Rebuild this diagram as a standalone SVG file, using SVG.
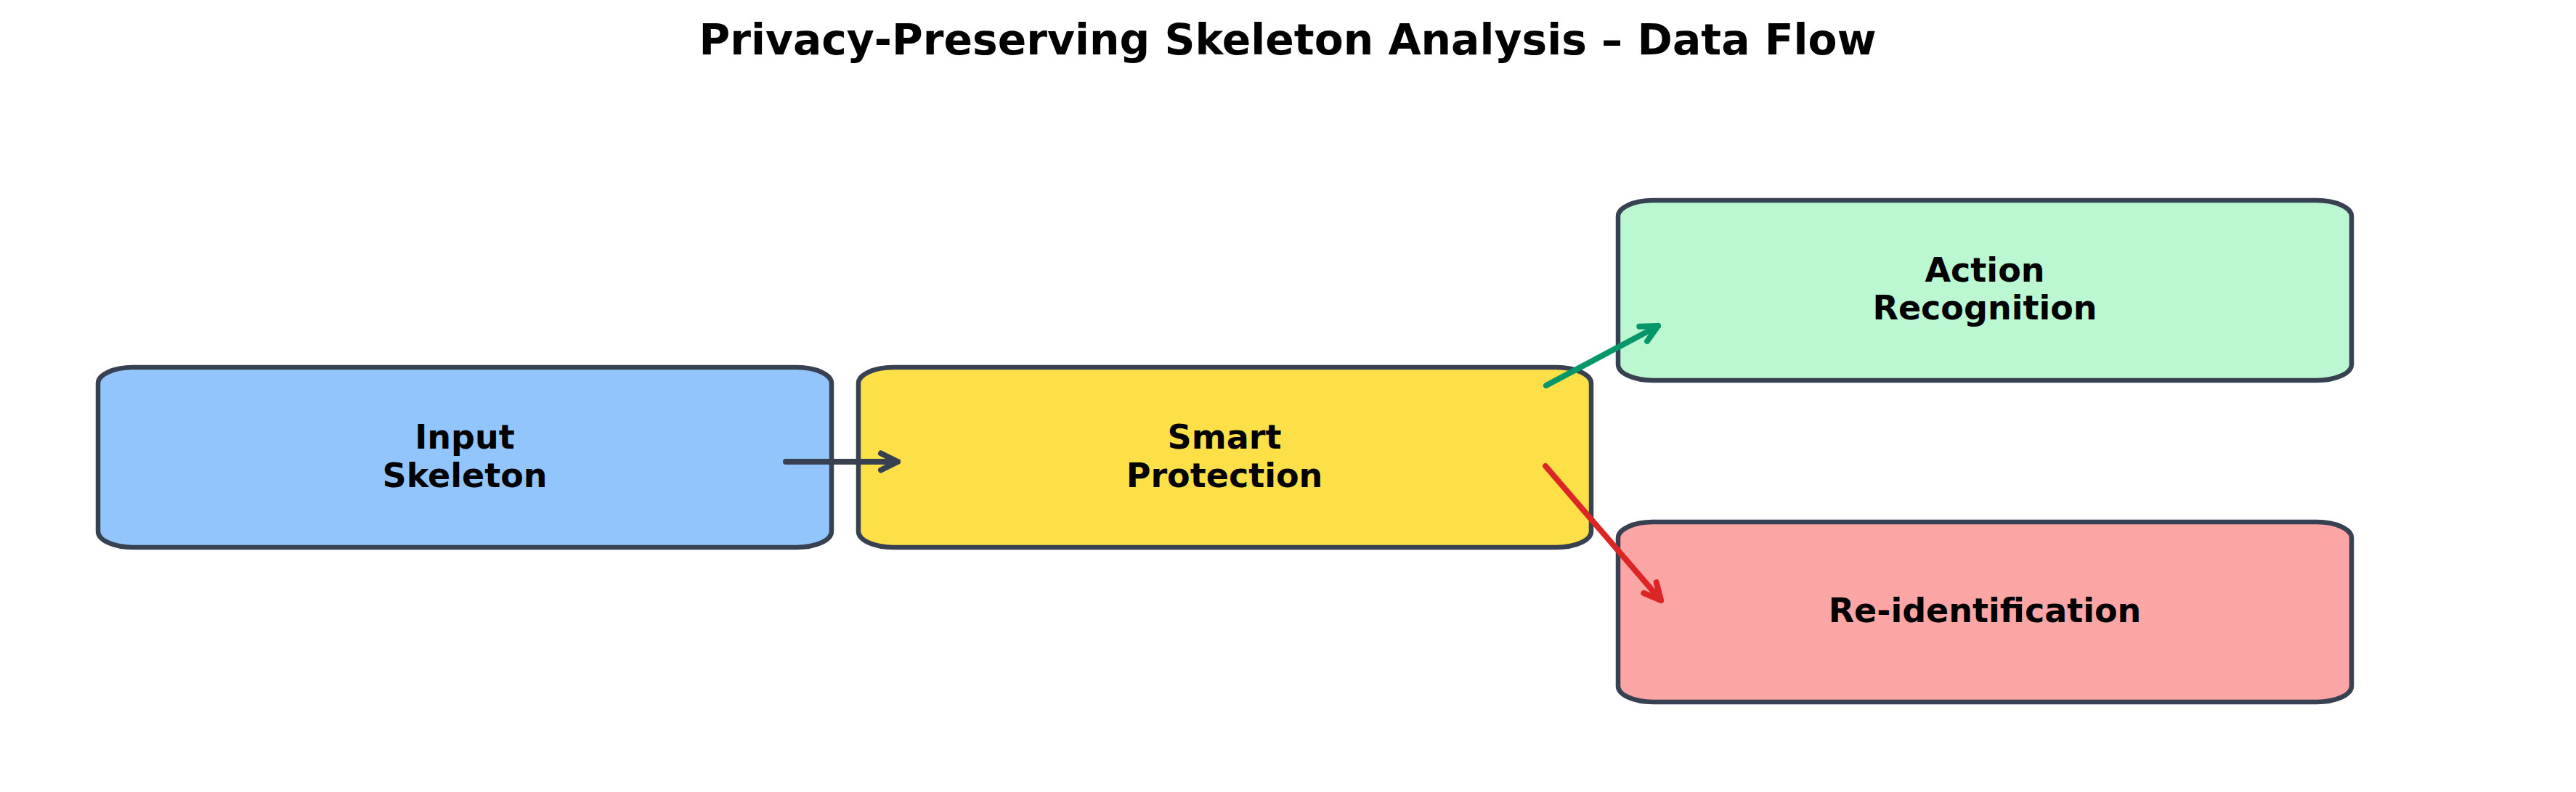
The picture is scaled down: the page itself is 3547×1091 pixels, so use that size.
<svg xmlns="http://www.w3.org/2000/svg" width="3547" height="1091" viewBox="0 0 3547 1091">
<style>
.box{stroke:#374151;stroke-width:6.5}
.lbl{font-family:"DejaVu Sans","Liberation Sans",sans-serif;font-weight:bold;font-size:46px;fill:#000;text-anchor:middle}
.title{font-family:"DejaVu Sans","Liberation Sans",sans-serif;font-weight:bold;font-size:58.3px;fill:#000;text-anchor:middle}
.conn{fill:none;stroke-width:8;stroke-linecap:round}
</style>
<defs>
<marker id="hGray" markerUnits="userSpaceOnUse" orient="auto" markerWidth="40" markerHeight="40" refX="0" refY="0" viewBox="-30 -20 40 40" overflow="visible">
<path d="M -23 -11.5 L 0 0 L -23 11.5" fill="none" stroke="#374151" stroke-width="8" stroke-linecap="round" stroke-linejoin="round"/>
</marker>
<marker id="hGreen" markerUnits="userSpaceOnUse" orient="auto" markerWidth="40" markerHeight="40" refX="0" refY="0" viewBox="-30 -20 40 40" overflow="visible">
<path d="M -23 -11.5 L 0 0 L -23 11.5" fill="none" stroke="#059669" stroke-width="8" stroke-linecap="round" stroke-linejoin="round"/>
</marker>
<marker id="hRed" markerUnits="userSpaceOnUse" orient="auto" markerWidth="40" markerHeight="40" refX="0" refY="0" viewBox="-30 -20 40 40" overflow="visible">
<path d="M -23 -11.5 L 0 0 L -23 11.5" fill="none" stroke="#DC2626" stroke-width="8" stroke-linecap="round" stroke-linejoin="round"/>
</marker>
</defs>
<rect width="3547" height="1091" fill="#ffffff"/>
<text class="title" x="1773" y="75">Privacy-Preserving Skeleton Analysis – Data Flow</text>
<g id="node-input">
<rect class="box" x="135" y="506" width="1010" height="248" rx="48" ry="22" fill="#93C5FD"/>
<text class="lbl" x="640" y="618">Input</text>
<text class="lbl" x="640" y="671">Skeleton</text>
</g>
<g id="node-smart">
<rect class="box" x="1182" y="506" width="1009" height="248" rx="48" ry="22" fill="#FDE047"/>
<text class="lbl" x="1686" y="618">Smart</text>
<text class="lbl" x="1686" y="671">Protection</text>
</g>
<g id="node-action">
<rect class="box" x="2228" y="276" width="1010" height="248" rx="48" ry="22" fill="#BBF7D0"/>
<text class="lbl" x="2733" y="388">Action</text>
<text class="lbl" x="2733" y="440">Recognition</text>
</g>
<g id="node-reid">
<rect class="box" x="2228" y="719" width="1010" height="248" rx="48" ry="22" fill="#FCA5A5"/>
<text class="lbl" x="2733" y="857">Re-identification</text>
</g>
<g id="connectors">
<line class="conn" x1="1082" y1="636" x2="1236" y2="636" stroke="#374151" marker-end="url(#hGray)"/>
<line class="conn" x1="2129" y1="531" x2="2283" y2="449" stroke="#059669" marker-end="url(#hGreen)"/>
<line class="conn" x1="2128" y1="642" x2="2287" y2="827" stroke="#DC2626" marker-end="url(#hRed)"/>
</g>
</svg>
